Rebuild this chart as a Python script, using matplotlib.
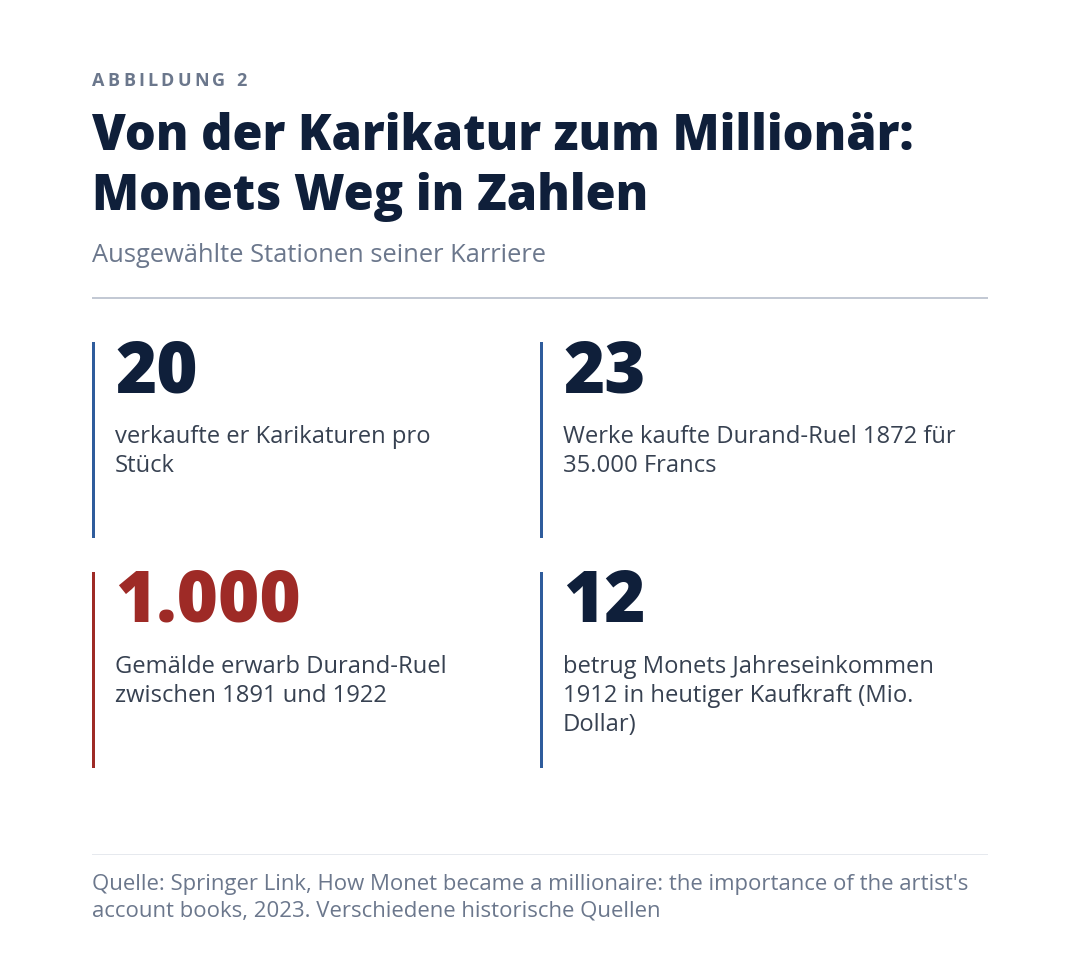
import matplotlib.pyplot as plt
from matplotlib.patches import Rectangle

plt.rcParams['font.family'] = ['Open Sans', 'DejaVu Sans']

# Inhalte
label = 'ABBILDUNG 2'
title_lines = ['Von der Karikatur zum Millionär:', 'Monets Weg in Zahlen']
subtitle = 'Ausgewählte Stationen seiner Karriere'
numbers = ['20', '23', '1.000', '12']
descriptions = [
    ['verkaufte er Karikaturen pro', 'Stück'],
    ['Werke kaufte Durand-Ruel 1872 für', '35.000 Francs'],
    ['Gemälde erwarb Durand-Ruel', 'zwischen 1891 und 1922'],
    ['betrug Monets Jahreseinkommen', '1912 in heutiger Kaufkraft (Mio.', 'Dollar)'],
]
highlight = [False, False, True, False]
source_lines = [
    "Quelle: Springer Link, How Monet became a millionaire: the importance of the artist's",
    'account books, 2023. Verschiedene historische Quellen',
]

NAVY = '#0f1f3a'
RED = '#9e2a26'
BLUE = '#2f5c9c'
GRAY = '#6b778c'
BODY = '#374151'

W, H = 1080, 958
fig = plt.figure(figsize=(W / 100, H / 100), dpi=100)
fig.patch.set_facecolor('white')
renderer = fig.canvas.get_renderer()


def put(x, y, s, **kw):
    return fig.text(x / W, 1 - y / H, s, va='baseline', ha='left', **kw)


def fit(s, width, **kw):
    t = fig.text(0, 0, s, fontsize=10, **kw)
    w = t.get_window_extent(renderer).width
    t.remove()
    return 10 * width / w


def rect(x, y, w, h, color):
    fig.add_artist(Rectangle((x / W, 1 - (y + h) / H), w / W, h / H,
                             transform=fig.transFigure, color=color, lw=0))


# Kennzeichnung mit Sperrung
lab_size = 13
x = 92
for ch in label:
    t = put(x, 86, ch, fontsize=lab_size, fontweight='bold', color=GRAY)
    if ch == ' ':
        x += 8
    else:
        x += t.get_window_extent(renderer).width + 3.2

# Titel
title_size = fit(title_lines[0], 826, fontweight='heavy')
put(92, 150, title_lines[0], fontsize=title_size, fontweight='heavy', color=NAVY)
put(92, 210, title_lines[1], fontsize=title_size, fontweight='heavy', color=NAVY)

sub_size = fit(subtitle, 454)
put(92, 262, subtitle, fontsize=sub_size, color=GRAY)

rect(92, 297, 896, 1.5, '#c3c9d4')

# Kennzahlen-Karten
num_size = fit(numbers[2], 186, fontweight='heavy')
desc_size = fit(descriptions[1][0], 393)
cols = [92, 540]
rows = [342, 572]
for i, (num, desc) in enumerate(zip(numbers, descriptions)):
    cx = cols[i % 2]
    cy = rows[i // 2]
    c = RED if highlight[i] else BLUE
    rect(cx, cy, 3, 196, c)
    put(cx + 23, cy + 50, num, fontsize=num_size, fontweight='heavy',
        color=RED if highlight[i] else NAVY)
    for j, line in enumerate(desc):
        put(cx + 23, cy + 101 + j * 29, line, fontsize=desc_size, color=BODY)

# Quelle
rect(92, 854, 896, 1, '#e6e9ee')
src_size = fit(source_lines[0], 876)
put(92, 890, source_lines[0], fontsize=src_size, color=GRAY)
put(92, 917, source_lines[1], fontsize=src_size, color=GRAY)

fig.savefig('out.png', dpi=100, facecolor='white')
